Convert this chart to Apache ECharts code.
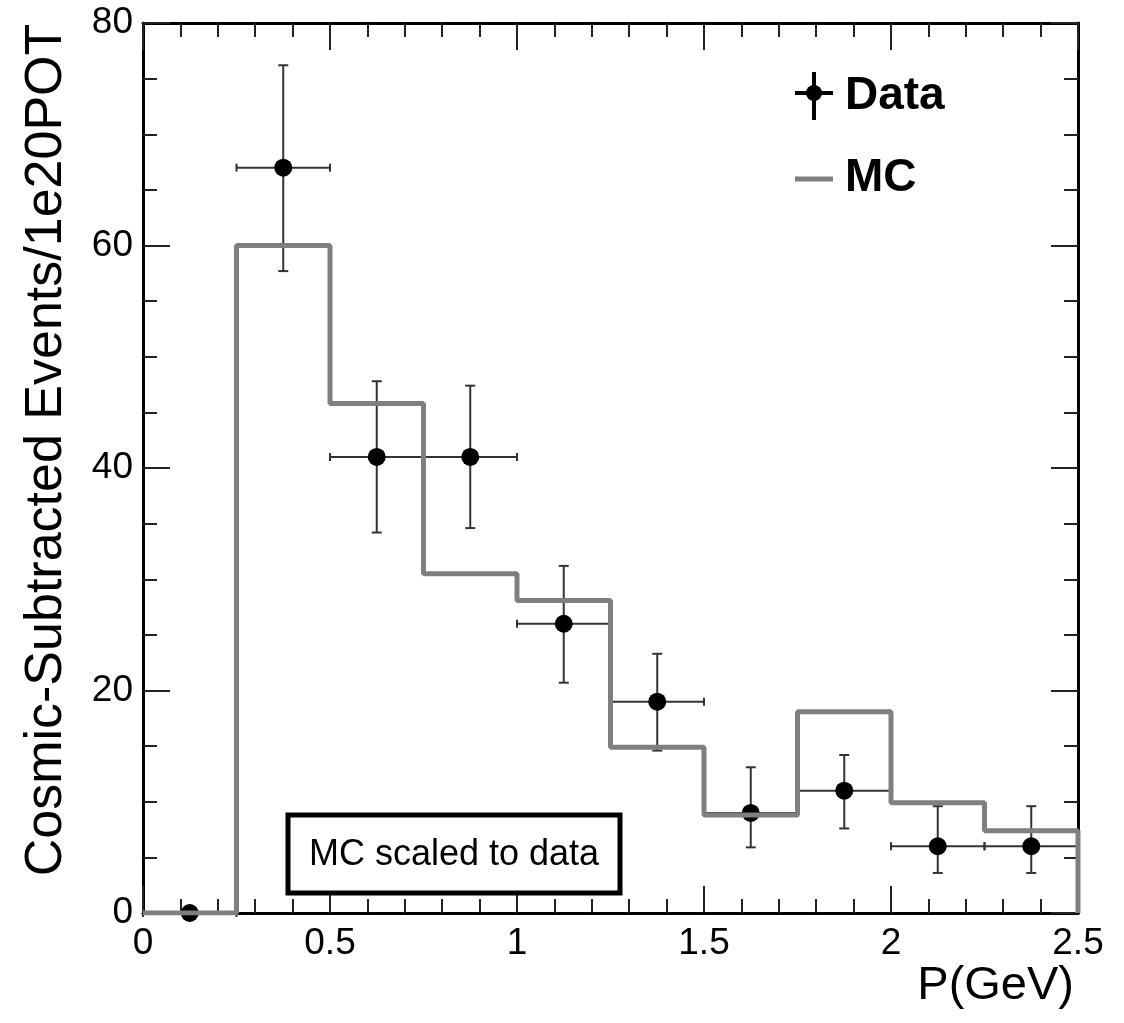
<!DOCTYPE html>
<html>
<head>
<meta charset="utf-8">
<script src="https://cdn.jsdelivr.net/npm/echarts@6/dist/echarts.min.js"></script>
<style>
html,body{margin:0;padding:0;background:#fff;}
#chart{width:1124px;height:1023px;}
</style>
</head>
<body>
<div id="chart"></div>
<script>
// ---- Data ----
const binCenters = [0.125, 0.375, 0.625, 0.875, 1.125, 1.375, 1.625, 1.875, 2.125, 2.375];
const xErrors    = [0.125, 0.125, 0.125, 0.125, 0.125, 0.125, 0.125, 0.125, 0.125, 0.125];
const dataValues = [0, 67, 41, 41, 26, 19, 9, 11, 6, 6];
const errLow     = [0, 57.7, 34.2, 34.6, 20.7, 14.6, 5.9, 7.6, 3.6, 3.6];
const errHigh    = [0, 76.2, 47.8, 47.4, 31.2, 23.3, 13.1, 14.2, 9.6, 9.6];

const mcEdges  = [0, 0.25, 0.5, 0.75, 1.0, 1.25, 1.5, 1.75, 2.0, 2.25, 2.5];
const mcValues = [0, 60, 45.8, 30.5, 28.1, 14.9, 8.8, 18.1, 9.9, 7.4];

const xTicks = [0, 0.5, 1, 1.5, 2, 2.5];
const yTicks = [0, 20, 40, 60, 80];

const legendNames = ['Data', 'MC'];
const noteText = 'MC scaled to data';
const xTitle = 'P(GeV)';
const yTitle = 'Cosmic-Subtracted Events/1e20POT';

// ---- Build series data ----
const errRows = binCenters.map((x, i) => [x, dataValues[i], errLow[i], errHigh[i], xErrors[i]]);
const pointRows = binCenters.map((x, i) => [x, dataValues[i]]);
const mcRows = mcEdges.slice(0, -1).map((e, i) => [e, mcValues[i]]);
mcRows.push([mcEdges[mcEdges.length - 1], mcValues[mcValues.length - 1]]);
mcRows.push([mcEdges[mcEdges.length - 1], 0]);

const FONT = '"Liberation Sans", Arial, Helvetica, sans-serif';
const tickStyle = {color: '#222', width: 2};

function axisCommon(extra) {
  return Object.assign({
    type: 'value',
    axisLine: {show: true, onZero: false, lineStyle: {color: '#000', width: 3}},
    axisTick: {show: true, inside: true, length: 27, lineStyle: tickStyle},
    minorTick: {show: true, length: 14, lineStyle: tickStyle},
    splitLine: {show: false},
    minorSplitLine: {show: false}
  }, extra);
}

const chart = echarts.init(document.getElementById('chart'), null, {renderer: 'canvas'});
chart.setOption({
  animation: false,
  backgroundColor: '#fff',
  grid: {left: 143, top: 23, right: 46, bottom: 110, containLabel: false},
  xAxis: [
    axisCommon({
      position: 'bottom', min: xTicks[0], max: xTicks[xTicks.length - 1], interval: 0.5,
      minorTick: {show: true, splitNumber: 5, length: 14, lineStyle: tickStyle},
      axisLabel: {show: true, fontSize: 37, color: '#000', fontFamily: FONT, margin: 12,
        formatter: v => String(v)}
    }),
    axisCommon({
      position: 'top', min: xTicks[0], max: xTicks[xTicks.length - 1], interval: 0.5,
      minorTick: {show: true, splitNumber: 5, length: 14, lineStyle: tickStyle},
      axisLabel: {show: false}
    })
  ],
  yAxis: [
    axisCommon({
      position: 'left', min: yTicks[0], max: yTicks[yTicks.length - 1], interval: 20,
      minorTick: {show: true, splitNumber: 4, length: 14, lineStyle: tickStyle},
      axisLabel: {show: true, fontSize: 37, color: '#000', fontFamily: FONT, margin: 10}
    }),
    axisCommon({
      position: 'right', min: yTicks[0], max: yTicks[yTicks.length - 1], interval: 20,
      minorTick: {show: true, splitNumber: 4, length: 14, lineStyle: tickStyle},
      axisLabel: {show: false}
    })
  ],
  series: [
    {
      name: 'DataErr',
      type: 'custom',
      xAxisIndex: 0, yAxisIndex: 0,
      z: 2,
      data: errRows,
      renderItem: function (params, api) {
        const x = api.value(0), y = api.value(1), lo = api.value(2), hi = api.value(3), xe = api.value(4);
        const l = api.coord([x - xe, y]);
        const r = api.coord([x + xe, y]);
        const t = api.coord([x, hi]);
        const b = api.coord([x, lo]);
        const st = {stroke: '#333', lineWidth: 2};
        const ch = [];
        ch.push({type: 'line', shape: {x1: l[0], y1: l[1], x2: r[0], y2: r[1]}, style: st});
        ch.push({type: 'line', shape: {x1: l[0], y1: l[1] - 4, x2: l[0], y2: l[1] + 4}, style: st});
        ch.push({type: 'line', shape: {x1: r[0], y1: r[1] - 4, x2: r[0], y2: r[1] + 4}, style: st});
        if (hi !== lo) {
          ch.push({type: 'line', shape: {x1: t[0], y1: t[1], x2: b[0], y2: b[1]}, style: st});
          ch.push({type: 'line', shape: {x1: t[0] - 5, y1: t[1], x2: t[0] + 5, y2: t[1]}, style: st});
          ch.push({type: 'line', shape: {x1: b[0] - 5, y1: b[1], x2: b[0] + 5, y2: b[1]}, style: st});
        }
        return {type: 'group', children: ch};
      }
    },
    {
      name: legendNames[0],
      type: 'scatter',
      xAxisIndex: 0, yAxisIndex: 0,
      z: 3,
      symbol: 'circle',
      symbolSize: 18,
      itemStyle: {color: '#000', opacity: 1},
      data: pointRows
    },
    {
      name: legendNames[1],
      type: 'line',
      xAxisIndex: 0, yAxisIndex: 0,
      z: 4,
      step: 'end',
      showSymbol: false,
      symbol: 'none',
      lineStyle: {color: '#7f7f7f', width: 5},
      data: mcRows
    }
  ],
  graphic: [
    // y-axis title
    {type: 'text', x: 47, y: 450, rotation: Math.PI / 2, z: 10,
      style: {text: yTitle, font: '52px ' + FONT, fill: '#000', textAlign: 'center', textVerticalAlign: 'middle', verticalAlign: 'middle'}},
    // x-axis title
    {type: 'text', x: 1074, y: 986, z: 10,
      style: {text: xTitle, font: '47px ' + FONT, fill: '#000', textAlign: 'right', textVerticalAlign: 'middle', verticalAlign: 'middle'}},
    // legend: Data
    {type: 'line', z: 10, shape: {x1: 795, y1: 93, x2: 833, y2: 93}, style: {stroke: '#000', lineWidth: 4}},
    {type: 'line', z: 10, shape: {x1: 814, y1: 72, x2: 814, y2: 120}, style: {stroke: '#000', lineWidth: 4}},
    {type: 'circle', z: 10, shape: {cx: 814, cy: 93, r: 8}, style: {fill: '#000'}},
    {type: 'text', x: 845, y: 96, z: 10,
      style: {text: legendNames[0], font: 'bold 46px ' + FONT, fill: '#000', textAlign: 'left', textVerticalAlign: 'middle', verticalAlign: 'middle'}},
    // legend: MC
    {type: 'line', z: 10, shape: {x1: 795, y1: 179, x2: 833, y2: 179}, style: {stroke: '#7f7f7f', lineWidth: 5}},
    {type: 'text', x: 845, y: 178, z: 10,
      style: {text: legendNames[1], font: 'bold 46px ' + FONT, fill: '#000', textAlign: 'left', textVerticalAlign: 'middle', verticalAlign: 'middle'}},
    // note box
    {type: 'rect', z: 10, shape: {x: 288, y: 815, width: 332, height: 78}, style: {fill: '#fff', stroke: '#000', lineWidth: 5}},
    {type: 'text', x: 454, y: 855, z: 11,
      style: {text: noteText, font: '36px ' + FONT, fill: '#000', textAlign: 'center', textVerticalAlign: 'middle', verticalAlign: 'middle'}}
  ]
});
</script>
</body>
</html>
